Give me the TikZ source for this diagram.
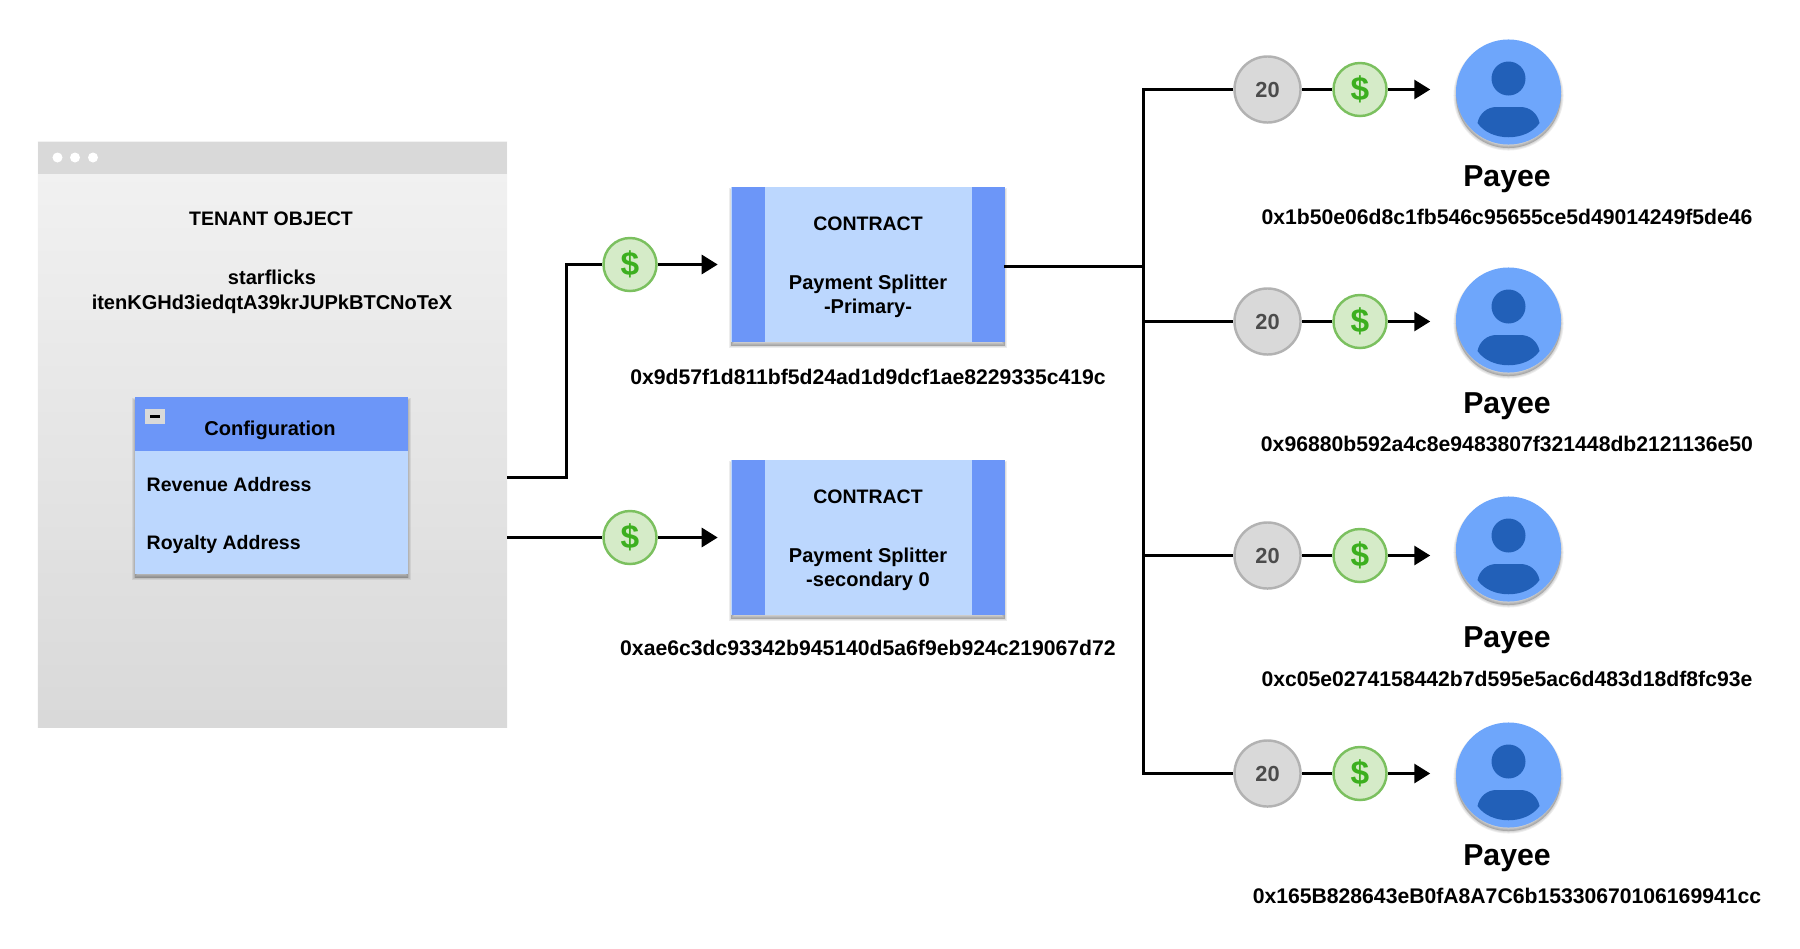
\documentclass[tikz,border=0pt]{standalone}
\usepackage{fontspec}
\setmainfont{Liberation Sans}
\usetikzlibrary{arrows.meta}
\definecolor{stripblue}{HTML}{6C96F8}
\definecolor{paleblue}{HTML}{BCD7FE}
\definecolor{iconblue}{HTML}{6EA6FB}
\definecolor{darkblue}{HTML}{2260B8}
\definecolor{palegreen}{HTML}{D5EBC8}
\definecolor{midgreen}{HTML}{7BC05F}
\definecolor{dollargreen}{HTML}{3CAF1F}
\tikzset{
    softlayer/.style={preaction={draw=black,fill=black,draw opacity=0.07,fill opacity=0.07,line width=#1,transform canvas={yshift=-0.035cm}}},
    softshadow/.style={softlayer=0.05cm,softlayer=0.03cm,softlayer=0.01cm}
}
\begin{document}
\begin{tikzpicture}[x=0.01cm,y=-0.01cm,
    txt/.style={inner sep=0pt,font=\bfseries\fontsize{6.02}{7}\selectfont},
    head/.style={txt,font=\bfseries\fontsize{5.7}{7}\selectfont},
    caps/.style={txt,font=\bfseries\fontsize{5.55}{7}\selectfont},
    payee/.style={inner sep=0pt,font=\bfseries\fontsize{8.6}{10}\selectfont},
    dollar/.style={circle,draw=midgreen,fill=palegreen,line width=0.7pt,minimum size=0.53cm,inner sep=0pt,text=dollargreen,font=\bfseries\fontsize{9.5}{10}\selectfont},
    share/.style={circle,draw=black!30,fill=black!15,line width=0.7pt,minimum size=0.66cm,inner sep=0pt,text=black!70,font=\bfseries\fontsize{6.2}{7}\selectfont},
    contract/.style={fill=paleblue,minimum width=2.73cm,minimum height=1.55cm,inner sep=0pt,softshadow},
    strip/.style={fill=stripblue,minimum width=0.33cm,minimum height=1.55cm,inner sep=0pt},
    person/.style={circle,fill=iconblue,minimum size=1.05cm,inner sep=0pt,softshadow},
    wire/.style={black,line width=0.85pt},
    arrow/.style={wire,-{Triangle[length=0.16cm,width=0.19cm]}},
    payeeicon/.pic={
        \fill[darkblue] (0,-13.5) circle (17);
        \fill[darkblue] (-31,31) .. controls (-29,21) and (-21,15) .. (-12,15) -- (12,15)
            .. controls (21,15) and (29,21) .. (31,31) .. controls (18,50) and (-18,50) .. (-31,31) -- cycle;
    }]
    \useasboundingbox (0,0) rectangle (1800,948);

    % tenant panel
    \node[top color=black!5,bottom color=black!15,minimum width=4.69cm,minimum height=5.85cm,inner sep=0pt] (panel) at (272.5,434.5) {};
    \node[fill=black!15,minimum width=4.69cm,minimum height=0.325cm,inner sep=0pt] (bar) at (272.5,158) {};
    \node[circle,fill=white,minimum size=0.1cm,inner sep=0pt] (dotA) at (57.5,157.5) {};
    \node[circle,fill=white,minimum size=0.1cm,inner sep=0pt] (dotB) at (75,157.5) {};
    \node[circle,fill=white,minimum size=0.1cm,inner sep=0pt] (dotC) at (93,157.5) {};
    \node[caps] (tenant) at (271,219) {TENANT OBJECT};
    \node[head] (tenantname) at (272,277) {starflicks};
    \node[head] (tenantid) at (272,304) {itenKGHd3iedqtA39krJUPkBTCNoTeX};

    % configuration box
    \node[fill=paleblue,minimum width=2.73cm,minimum height=1.77cm,inner sep=0pt,softshadow] (config) at (271.5,485.5) {};
    \node[fill=stripblue,minimum width=2.73cm,minimum height=0.54cm,inner sep=0pt] (confighead) at (271.5,424) {};
    \node[fill=black!15,minimum width=0.2cm,minimum height=0.155cm,inner sep=0pt] (minusbox) at (155,416.5) {};
    \node[fill=black,minimum width=0.1cm,minimum height=0.03cm,inner sep=0pt] (minus) at (155,416.5) {};
    \node[head] (configtext) at (270,430) {Configuration};
    \node[caps,anchor=west] (revenue) at (146,485) {Revenue Address};
    \node[caps,anchor=west] (royalty) at (146,544) {Royalty Address};

    % contracts
    \node[contract] (C1) at (868,264.5) {};
    \node[strip] (C1L) at (748,264.5) {};
    \node[strip] (C1R) at (988,264.5) {};
    \node[caps] (C1title) at (868,224) {CONTRACT};
    \node[head] (C1name) at (868,284) {Payment Splitter};
    \node[head] (C1kind) at (868,308) {-Primary-};
    \node[txt] (C1addr) at (868,376.5) {0x9d57f1d811bf5d24ad1d9dcf1ae8229335c419c};

    \node[contract] (C2) at (868,537.5) {};
    \node[strip] (C2L) at (748,537.5) {};
    \node[strip] (C2R) at (988,537.5) {};
    \node[caps] (C2title) at (868,497) {CONTRACT};
    \node[head] (C2name) at (868,557) {Payment Splitter};
    \node[head] (C2kind) at (868,581) {-secondary 0};
    \node[txt] (C2addr) at (868,647.5) {0xae6c3dc93342b945140d5a6f9eb924c219067d72};

    % money going into the contracts
    \node[dollar] (D1) at (630,264.5) {\$};
    \node[dollar] (D2) at (630,537.5) {\$};
    \coordinate (revenueout) at (507,477.5);
    \coordinate (royaltyout) at (507,537.5);
    \coordinate (elbow) at (566,477.5);
    \draw[wire] (revenueout) -- (elbow) |- (D1);
    \draw[wire] (royaltyout) -- (D2);
    \draw[arrow,shorten >=0.13cm] (D1) -- (C1);
    \draw[arrow,shorten >=0.13cm] (D2) -- (C2);

    % payees
    \node[share] (N1) at (1267.5,89.5) {20};
    \node[dollar] (M1) at (1360,89.5) {\$};
    \node[person] (P1) at (1508.5,92) {};
    \pic at (P1) {payeeicon};
    \node[payee] (P1name) at (1507,179) {Payee};
    \node[txt] (P1addr) at (1507,217) {0x1b50e06d8c1fb546c95655ce5d49014249f5de46};

    \node[share] (N2) at (1267.5,321.5) {20};
    \node[dollar] (M2) at (1360,321.5) {\$};
    \node[person] (P2) at (1508.5,320) {};
    \pic at (P2) {payeeicon};
    \node[payee] (P2name) at (1507,406) {Payee};
    \node[txt] (P2addr) at (1507,444) {0x96880b592a4c8e9483807f321448db2121136e50};

    \node[share] (N3) at (1267.5,555.5) {20};
    \node[dollar] (M3) at (1360,555.5) {\$};
    \node[person] (P3) at (1508.5,549) {};
    \pic at (P3) {payeeicon};
    \node[payee] (P3name) at (1507,640) {Payee};
    \node[txt] (P3addr) at (1507,678.5) {0xc05e0274158442b7d595e5ac6d483d18df8fc93e};

    \node[share] (N4) at (1267.5,773.5) {20};
    \node[dollar] (M4) at (1360,773.5) {\$};
    \node[person] (P4) at (1508.5,775) {};
    \pic at (P4) {payeeicon};
    \node[payee] (P4name) at (1507,858) {Payee};
    \node[txt] (P4addr) at (1507,895.5) {0x165B828643eB0fA8A7C6b15330670106169941cc};

    % splitter bus
    \coordinate (busin) at (1004,266);
    \coordinate (busmid) at (1143.5,266);
    \coordinate (bustop) at (1143.5,89.5);
    \coordinate (busbot) at (1143.5,773.5);
    \draw[wire] (busin) -- (busmid);
    \draw[wire] (N1) -- (bustop) -- (busbot) -- (N4);
    \draw[wire] (busmid |- N2) -- (N2);
    \draw[wire] (busmid |- N3) -- (N3);
    \draw[wire] (N1) -- (M1);
    \draw[wire] (N2) -- (M2);
    \draw[wire] (N3) -- (M3);
    \draw[wire] (N4) -- (M4);
    \draw[arrow,shorten >=0.25cm] (M1) -- (M1 -| P1.west);
    \draw[arrow,shorten >=0.25cm] (M2) -- (M2 -| P2.west);
    \draw[arrow,shorten >=0.25cm] (M3) -- (M3 -| P3.west);
    \draw[arrow,shorten >=0.25cm] (M4) -- (M4 -| P4.west);
\end{tikzpicture}
\end{document}
